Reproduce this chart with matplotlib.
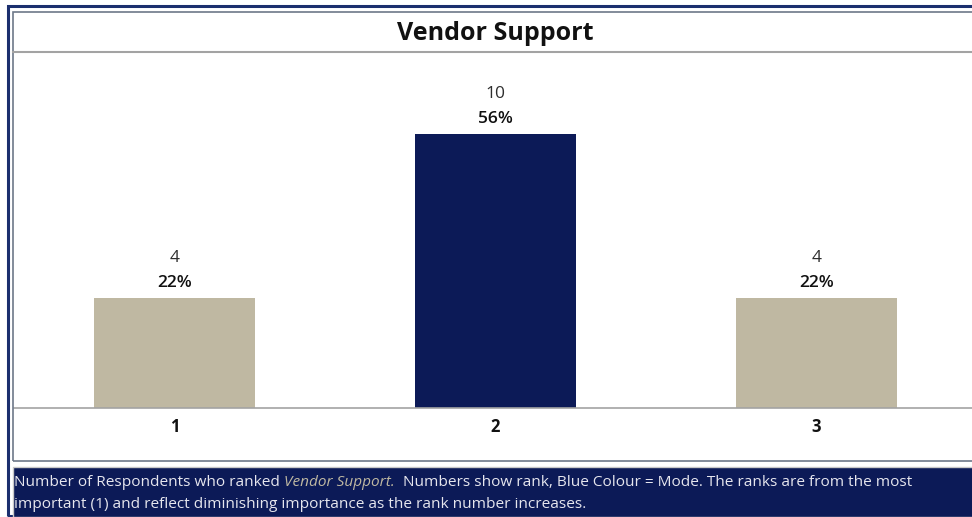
import matplotlib.pyplot as plt
from matplotlib.patches import Rectangle
from matplotlib.lines import Line2D

ranks = ["1", "2", "3"]
counts = [4, 10, 4]
percents = ["22%", "56%", "22%"]
mode_rank = "2"

NAVY = "#0c1a57"
BEIGE = "#bfb8a2"
W, H = 972, 517

plt.rcParams["font.family"] = ["Open Sans", "DejaVu Sans"]

fig = plt.figure(figsize=(W / 100, H / 100), dpi=100)


def fx(px):
    return px / W


def fy(py):
    return 1 - py / H


# frames: outer navy border, inner grey box, title separator, footer band
fig.add_artist(Rectangle((fx(8), fy(516)), fx(980), 516 / H - 6 / H,
                         fill=False, edgecolor="#1b2f6e", linewidth=2.2))
fig.add_artist(Rectangle((fx(13), fy(461)), fx(980), 449 / H,
                         fill=False, edgecolor="#6d7889", linewidth=1.2))
fig.add_artist(Line2D([fx(13), 1], [fy(52), fy(52)], color="#a3a3a3", lw=1.5))
fig.add_artist(Rectangle((fx(13), 0), fx(980), 50 / H,
                         facecolor=NAVY, edgecolor="#c8c8c8", linewidth=1))

fig.text(fx(495), fy(33), "Vendor Support", ha="center", va="center",
         fontsize=18, fontweight="bold", color="#111111")

ax = fig.add_axes([fx(14), fy(408), fx(963), 356 / H])
colors = [NAVY if r == mode_rank else BEIGE for r in ranks]
bars = ax.bar(ranks, counts, width=0.5, color=colors)
ax.set_xlim(-0.5, 2.5)
ax.set_ylim(0, 13)
ax.set_yticks([])
for side in ["top", "left", "right"]:
    ax.spines[side].set_visible(False)
ax.spines["bottom"].set_color("#a3a3a3")
ax.spines["bottom"].set_linewidth(1.2)
ax.tick_params(axis="x", length=0, pad=7, labelsize=12)
for lbl in ax.get_xticklabels():
    lbl.set_fontweight("bold")
    lbl.set_color("#111111")

for bar, n, pct in zip(bars, counts, percents):
    cx = bar.get_x() + bar.get_width() / 2
    top = bar.get_height()
    ax.annotate(pct, (cx, top), xytext=(0, 15), textcoords="offset pixels",
                ha="center", va="center", fontsize=12.5, fontweight="semibold",
                color="#111111")
    ax.annotate(str(n), (cx, top), xytext=(0, 40), textcoords="offset pixels",
                ha="center", va="center", fontsize=12.5, color="#2e2e2e")

# footer note with the topic name in italics
foot = dict(fontsize=11.05, color="#e6e6ee", va="baseline")
t1 = fig.text(fx(14), fy(486), "Number of Respondents who ranked ", **foot)
t2 = fig.text(0, 0, "Vendor Support.", fontsize=11.05, color=BEIGE,
              style="italic", va="baseline")
t3 = fig.text(0, 0, "  Numbers show rank, Blue Colour = Mode. The ranks are from the most",
              **foot)
fig.canvas.draw()
r = fig.canvas.get_renderer()
bb = t1.get_window_extent(r)
t2.set_position((bb.x1 / W, fy(486)))
fig.canvas.draw()
bb = t2.get_window_extent(r)
t3.set_position((bb.x1 / W, fy(486)))
fig.text(fx(14), fy(508),
         "important (1) and reflect diminishing importance as the rank number increases.",
         **foot)

fig.savefig("out.png", dpi=100)
